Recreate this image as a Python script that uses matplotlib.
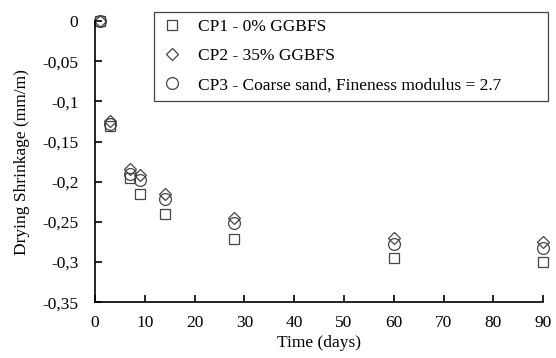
import matplotlib.pyplot as plt
from matplotlib.ticker import FuncFormatter

# Drying shrinkage data
days = [1, 3, 7, 9, 14, 28, 60, 90]
cp1 = [0, -0.131, -0.195, -0.215, -0.240, -0.271, -0.295, -0.300]
cp2 = [0, -0.125, -0.184, -0.192, -0.215, -0.245, -0.270, -0.275]
cp3 = [0, -0.128, -0.190, -0.198, -0.222, -0.251, -0.278, -0.282]
labels = ['CP1 - 0% GGBFS', 'CP2 - 35% GGBFS',
          'CP3 - Coarse sand, Fineness modulus = 2.7']

plt.rcParams['font.family'] = ['Liberation Serif', 'DejaVu Serif']
plt.rcParams['font.size'] = 12.5

fig = plt.figure(figsize=(5.56, 3.58), dpi=100)
ax = fig.add_axes([0.171, 0.156, 0.806, 0.785])

mk = dict(linestyle='none', markerfacecolor='none', markeredgecolor='#444444',
          markeredgewidth=0.9, clip_on=False)
ax.plot(days, cp1, marker='s', markersize=7.5, label=labels[0], **mk)
ax.plot(days, cp2, marker='D', markersize=6.5, label=labels[1], **mk)
ax.plot(days, cp3, marker='o', markersize=8.5, label=labels[2], **mk)

ax.set_xlim(0, 90)
ax.set_ylim(-0.35, 0)
ax.set_xticks(range(0, 91, 10))
ax.set_yticks([0, -0.05, -0.1, -0.15, -0.2, -0.25, -0.3, -0.35])
ax.yaxis.set_major_formatter(FuncFormatter(lambda v, p: ('%g' % round(v, 2)).replace('.', ',')))

for s in ['top', 'right']:
    ax.spines[s].set_visible(False)
for s in ['left', 'bottom']:
    ax.spines[s].set_linewidth(1.2)
ax.tick_params(direction='in', length=5, width=1.2)
ax.tick_params(axis='x', pad=9)
ax.tick_params(axis='y', pad=12)

ax.set_xlabel('Time (days)', labelpad=3)
ax.set_ylabel('Drying Shrinkage (mm/m)', labelpad=9)

leg = ax.legend(loc='upper left', bbox_to_anchor=(0.132, 0.5, 0.879, 0.532),
                mode='expand', borderaxespad=0,
                fancybox=False, framealpha=1, edgecolor='#444444',
                handlelength=1.2, handletextpad=0.9, labelspacing=0.75, borderpad=0.4)
leg.get_frame().set_linewidth(0.9)

plt.savefig('out.png', dpi=100)
